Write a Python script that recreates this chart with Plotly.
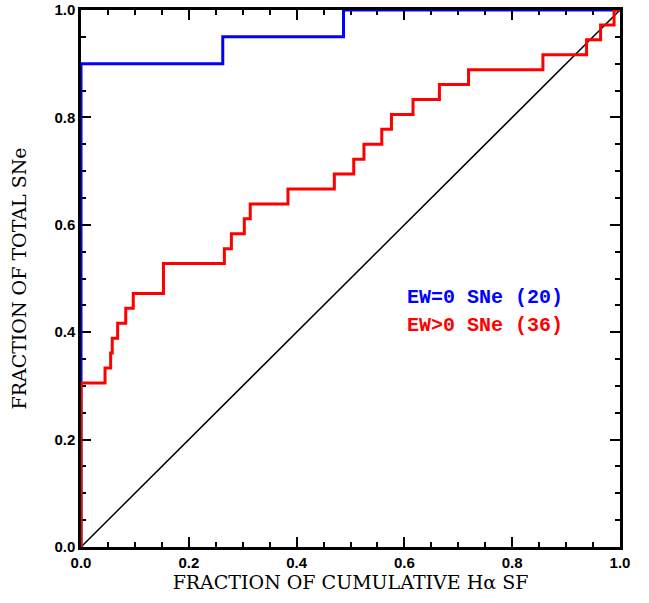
import plotly.graph_objects as go

# Blue: EW=0 SNe (20) step positions and cumulative counts
blue_x = [0.0, 0.0, 0.263, 0.487, 1.0]
blue_counts = [0, 18, 19, 20, 20]
blue_total = 20

# Red: EW>0 SNe (36) step positions and cumulative counts
red_x = [0.0, 0.0, 0.0446, 0.055, 0.058, 0.068, 0.083, 0.097, 0.153, 0.266, 0.279,
         0.303, 0.314, 0.384, 0.470, 0.506, 0.525, 0.558, 0.576, 0.616, 0.665,
         0.719, 0.857, 0.938, 0.964, 0.989, 1.0]
red_counts = [0, 11, 12, 13, 14, 15, 16, 17, 19, 20, 21,
              22, 23, 24, 25, 26, 27, 28, 29, 30, 31,
              32, 33, 34, 35, 36, 36]
red_total = 36

diag_x = [0.0, 1.0]
diag_y = [0.0, 1.0]

xticks = [0.0, 0.2, 0.4, 0.6, 0.8, 1.0]
yticks = [0.0, 0.2, 0.4, 0.6, 0.8, 1.0]
tick_text = ["0.0", "0.2", "0.4", "0.6", "0.8", "1.0"]

legend_labels = ["EW=0 SNe (20)", "EW>0 SNe (36)"]
legend_colors = ["#0000ff", "#ff0000"]

fig = go.Figure()
fig.add_trace(go.Scatter(x=diag_x, y=diag_y, mode="lines", cliponaxis=False,
                         line=dict(color="black", width=1.5), showlegend=False))
fig.add_trace(go.Scatter(x=blue_x, y=[c / blue_total for c in blue_counts], mode="lines",
                         cliponaxis=False,
                         line=dict(color="#0000ff", width=3, shape="hv"), showlegend=False))
fig.add_trace(go.Scatter(x=red_x, y=[c / red_total for c in red_counts], mode="lines",
                         cliponaxis=False,
                         line=dict(color="#ff0000", width=3, shape="hv"), showlegend=False))

tickfont = dict(family="Liberation Sans", size=15, color="black", weight="bold")
titlefont = dict(family="DejaVu Serif", size=19, color="black")

common = dict(range=[0, 1], showgrid=False, zeroline=False, showline=True, automargin=False,
              linecolor="black", linewidth=2.5, mirror="allticks", ticks="inside",
              ticklen=10, tickwidth=2, tickcolor="black", tickfont=tickfont,
              layer="below traces", ticklabeloverflow="allow",
              minor=dict(ticks="inside", ticklen=5, tickwidth=2, tickcolor="black", dtick=0.05))

fig.update_xaxes(tickvals=xticks, ticktext=tick_text,
                 title=dict(text="FRACTION OF CUMULATIVE Hα SF", font=titlefont, standoff=2),
                 **common)
fig.update_yaxes(tickvals=yticks, ticktext=tick_text,
                 title=dict(text="FRACTION OF TOTAL SNe", font=titlefont, standoff=23),
                 **common)

ann_y = [0.464, 0.412]
for lab, col, yy in zip(legend_labels, legend_colors, ann_y):
    fig.add_annotation(x=0.602, y=yy, xref="x", yref="y", text=lab, showarrow=False,
                       xanchor="left", yanchor="middle",
                       font=dict(family="Liberation Mono", size=20, color=col, weight="bold"))

fig.update_layout(width=649, height=603, plot_bgcolor="white", paper_bgcolor="white",
                  margin=dict(l=81, r=29, t=10, b=56), showlegend=False)

fig.write_html("out.html", config={"displayModeBar": False},
               post_script="document.body.style.margin='0';document.body.style.overflow='hidden';")
